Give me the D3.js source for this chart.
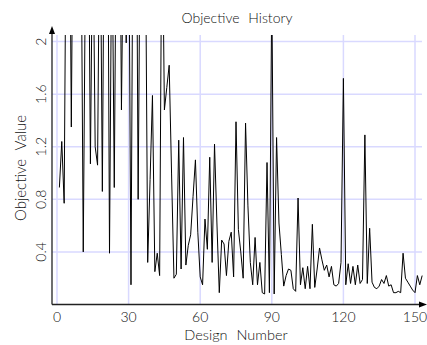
<html>
<head>
  <script src="https://d3js.org/d3.v7.min.js"></script>
  <style>
  body{
    margin: 0;
    background: #fff;
  }
  text{
    font-family: "DejaVu Sans ExtraLight", "Lato", "DejaVu Sans", sans-serif;
    font-weight: 300;
    fill: #111;
    word-spacing: 5px;
  }
  </style>
</head>
<body>
<svg id="chart"></svg>
<script type="text/javascript">
  // objective value for each design, in design order (1, 2, 3 ...)
  // values above 2.05 run off the top of the plot and get clipped
  var objective=[
    0.89,1.24,0.77,3.5,4.0,1.35,3.8,5.0,4.5,3.2,
    0.40,2.8,3.5,1.07,3.0,1.20,1.06,3.3,0.86,3.6,
    4.2,0.39,3.0,0.89,3.4,4.0,1.48,3.1,1.99,3.2,
    0.15,3.6,4.1,0.80,3.3,4.5,3.0,0.32,0.95,1.59,
    0.25,0.39,0.22,3.2,1.48,1.65,1.82,1.00,0.20,0.23,
    1.25,0.27,1.27,0.30,0.45,0.53,0.82,1.10,0.55,0.21,
    0.15,0.65,0.42,1.12,0.32,1.22,0.62,0.09,0.49,0.46,
    0.22,0.48,0.55,0.21,1.39,0.57,0.40,0.20,1.38,0.75,
    0.32,0.15,0.51,0.15,0.32,0.09,0.08,1.08,0.09,2.4,
    0.08,1.27,0.62,0.38,0.14,0.22,0.27,0.26,0.12,0.10,
    0.81,0.15,0.28,0.12,0.29,0.12,0.61,0.13,0.27,0.43,
    0.34,0.26,0.30,0.21,0.29,0.15,0.14,0.16,0.32,1.72,
    0.15,0.31,0.16,0.29,0.15,0.30,0.16,0.19,1.29,0.16,
    0.58,0.17,0.13,0.12,0.14,0.19,0.16,0.22,0.14,0.15,
    0.09,0.09,0.10,0.09,0.39,0.20,0.17,0.14,0.11,0.09,
    0.22,0.15,0.22
  ];
  var xTicks=[0,30,60,90,120,150];
  var yTicks=[0.4,0.8,1.2,1.6,2];

  var width=427;
  var height=345;
  var plotLeft=52;
  var plotRight=422;
  var plotTop=35;
  var plotBottom=304.5;

  var svg=d3.select("#chart")
            .attr("width",width)
            .attr("height",height);

  var xScale=d3.scaleLinear().domain([0,150]).range([57,415]);
  var yScale=d3.scaleLinear().domain([0,2.05]).range([plotBottom,plotTop]);

  // grid
  svg.selectAll("line.vgrid")
     .data(xTicks)
     .enter()
     .append("line")
     .attr("class","vgrid")
     .attr("x1",function(d){ return xScale(d) })
     .attr("x2",function(d){ return xScale(d) })
     .attr("y1",plotTop)
     .attr("y2",plotBottom)
     .attr("stroke","#d9d9ff")
     .attr("stroke-width",1.5)
  svg.selectAll("line.hgrid")
     .data(yTicks)
     .enter()
     .append("line")
     .attr("class","hgrid")
     .attr("x1",plotLeft)
     .attr("x2",plotRight)
     .attr("y1",function(d){ return yScale(d) })
     .attr("y2",function(d){ return yScale(d) })
     .attr("stroke","#d9d9ff")
     .attr("stroke-width",1.5)

  // data line, clipped to the plot
  svg.append("clipPath")
     .attr("id","plotclip")
     .append("rect")
     .attr("x",plotLeft)
     .attr("y",plotTop)
     .attr("width",width-plotLeft)
     .attr("height",plotBottom-plotTop)

  var line=d3.line()
             .x(function(d,i){ return xScale(i+1) })
             .y(function(d){ return yScale(d) })

  svg.append("path")
     .datum(objective)
     .attr("clip-path","url(#plotclip)")
     .attr("d",line)
     .attr("fill","none")
     .attr("stroke","#000")
     .attr("stroke-width",1)

  // axes with arrows
  svg.append("line")
     .attr("x1",plotLeft).attr("y1",plotBottom)
     .attr("x2",plotLeft).attr("y2",30)
     .attr("stroke","#222").attr("stroke-width",1.3)
  svg.append("path")
     .attr("d","M"+plotLeft+",26 L"+(plotLeft-3)+",34 L"+(plotLeft+3)+",34 Z")
     .attr("fill","#000")
  svg.append("line")
     .attr("x1",plotLeft).attr("y1",plotBottom)
     .attr("x2",422).attr("y2",plotBottom)
     .attr("stroke","#222").attr("stroke-width",1.3)
  svg.append("path")
     .attr("d","M427,"+plotBottom+" L419,"+(plotBottom-3)+" L419,"+(plotBottom+3)+" Z")
     .attr("fill","#000")

  // tick labels
  svg.selectAll("text.xtick")
     .data(xTicks)
     .enter()
     .append("text")
     .attr("class","xtick")
     .attr("x",function(d){ return xScale(d) })
     .attr("y",322)
     .attr("text-anchor","middle")
     .style("font-size","14px")
     .text(function(d){ return d })
  svg.selectAll("text.ytick")
     .data(yTicks)
     .enter()
     .append("text")
     .attr("class","ytick")
     .attr("transform",function(d){ return "translate(46,"+yScale(d)+") rotate(-90)" })
     .attr("text-anchor","middle")
     .style("font-size","14px")
     .text(function(d){ return String(d) })

  // titles
  svg.append("text")
     .attr("x",237)
     .attr("y",23)
     .attr("text-anchor","middle")
     .style("font-size","14px")
     .text("Objective History")
  svg.append("text")
     .attr("x",236)
     .attr("y",340)
     .attr("text-anchor","middle")
     .style("font-size","14.5px")
     .text("Design Number")
  svg.append("text")
     .attr("transform","translate(26,168) rotate(-90)")
     .attr("text-anchor","middle")
     .style("font-size","15px")
     .text("Objective Value")
</script>
</body>
</html>
